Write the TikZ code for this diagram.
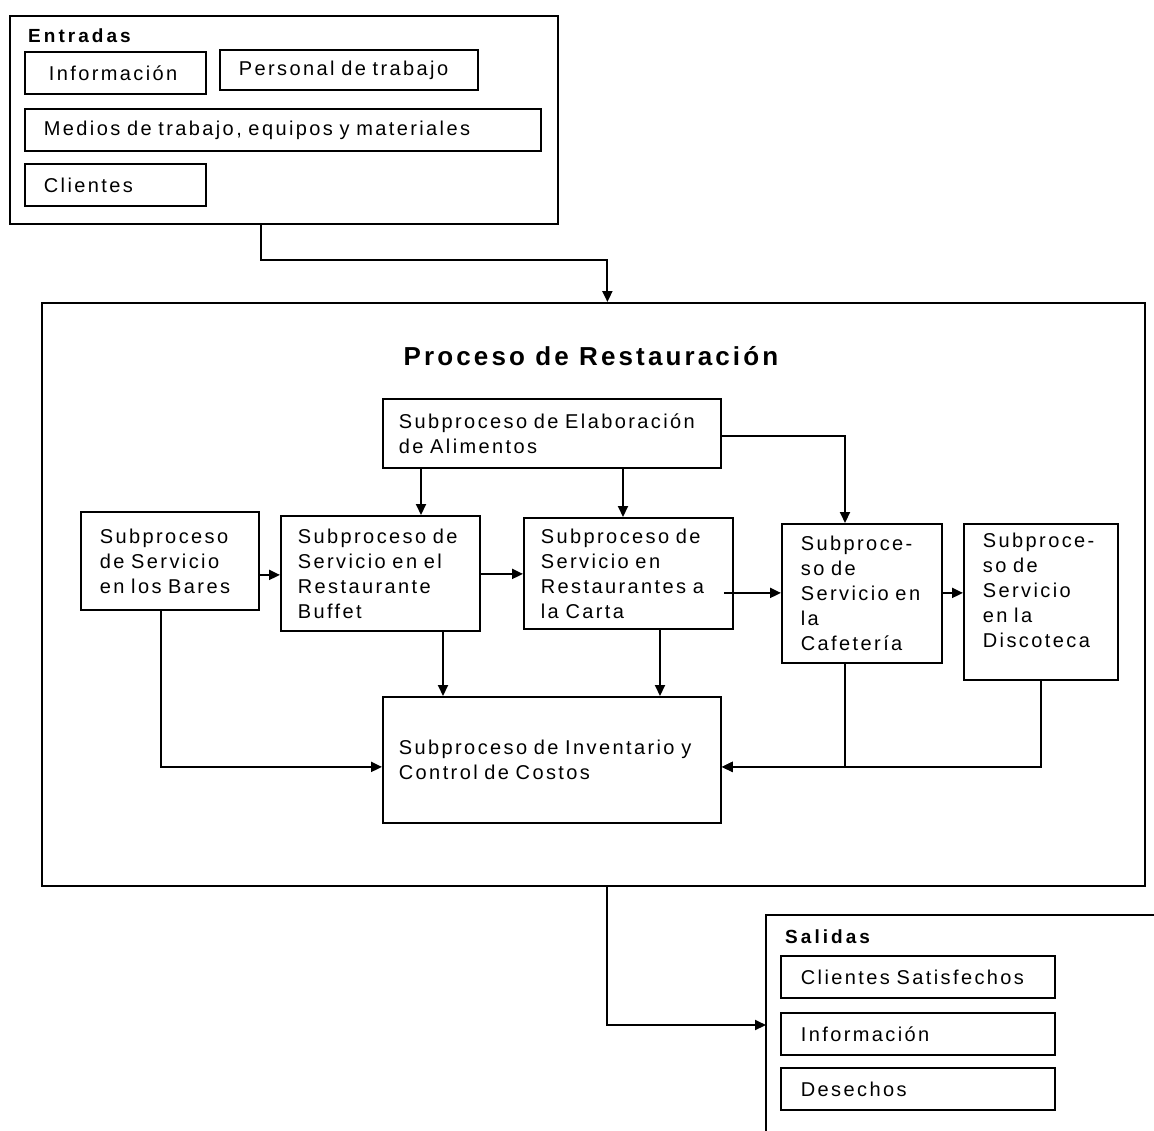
\documentclass[tikz,border=0pt]{standalone}
\usepackage{fontspec}
\usetikzlibrary{arrows.meta}
\newfontfamily\tf[LetterSpace=12]{Liberation Sans}
\newfontfamily\tfl[LetterSpace=16]{Liberation Sans}
\newcommand\bodyfont{\tf\fontsize{20}{25}\selectfont}
\newcommand\titlefont{\tf\bfseries\fontsize{26}{30}\selectfont}
\tikzset{
  bx/.style={draw, line width=1.8pt, inner ysep=0pt, anchor=north west, align=left, font=\bodyfont},
  lbl/.style={anchor=west, inner sep=0pt, font=\tfl\bfseries\fontsize{19}{22}\selectfont},
  arr/.style={draw, line width=2pt, -{Triangle[length=11pt,width=10pt]}},
  ln/.style={draw, line width=1.8pt}
}
\begin{document}
\begin{tikzpicture}[x=1pt,y=-1pt]
\useasboundingbox (0,0) rectangle (1154,1130);
% Entradas
\node[bx, minimum height=208pt, text width=548pt, inner xsep=0pt] (ent) at (9,15) {};
\node[lbl] (entl) at (28,36) {Entradas};
\node[bx, minimum height=42pt, text width=133pt, inner xsep=24pt] (ei) at (24,51) {Información};
\node[bx, minimum height=40pt, text width=220pt, inner xsep=19pt] (ep) at (219,49) {Personal~de~trabajo};
\node[bx, minimum height=42pt, text width=478pt, inner xsep=19pt] (em) at (24,108) {Medios~de~trabajo,~equipos~y~materiales};
\node[bx, minimum height=42pt, text width=143pt, inner xsep=19pt] (ec) at (24,163) {Clientes};
% Proceso
\node[bx, minimum height=583pt, text width=1103pt, inner xsep=0pt] (proc) at (41,302) {};
\node[inner sep=0pt, font=\titlefont] (title) at (591,356) {Proceso de Restauración};
\node[bx, minimum height=69pt, text width=306pt, inner xsep=16pt] (elab) at (382,398) {Subproceso~de~Elaboración\\de~Alimentos};
\node[bx, minimum height=98pt, text width=140pt, inner xsep=19pt] (bares) at (80,511) {Subproceso\\de~Servicio\\en~los~Bares};
\node[bx, minimum height=115pt, text width=165pt, inner xsep=17pt] (buf) at (280,515) {Subproceso~de\\Servicio~en~el\\Restaurante\\Buffet};
\node[bx, minimum height=111pt, text width=175pt, inner xsep=17pt] (carta) at (523,517) {Subproceso~de\\Servicio~en\\Restaurantes~a\\la~Carta};
\node[bx, minimum height=139pt, text width=122pt, inner xsep=19pt] (cafe) at (781,523) {Subproce-\\so~de\\Servicio~en\\la\\Cafetería};
\node[bx, minimum height=156pt, text width=116pt, inner xsep=19pt] (disc) at (963,523) {Subproce-\\so~de\\Servicio\\en~la\\Discoteca\rule[-24pt]{0pt}{1pt}};
\node[bx, minimum height=126pt, text width=306pt, inner xsep=16pt] (inv) at (382,696) {Subproceso~de~Inventario~y\\Control~de~Costos};
% Salidas
\draw[ln] (1160,915) -| (766,1136);
\coordinate (salin) at (766,1025);
\node[lbl] (sall) at (785,937) {Salidas};
\node[bx, minimum height=42pt, text width=234pt, inner xsep=20pt] (s1) at (780,955) {Clientes~Satisfechos};
\node[bx, minimum height=42pt, text width=234pt, inner xsep=20pt] (s2) at (780,1012) {Información};
\node[bx, minimum height=42pt, text width=234pt, inner xsep=20pt] (s3) at (780,1067) {Desechos};
% connectors
\draw[arr] ([xshift=252pt]ent.south west) -- ++(0,35) -| ([xshift=14pt]proc.north);
\coordinate (bt) at ([xshift=141pt]buf.north west);
\coordinate (ct) at ([xshift=100pt]carta.north west);
\coordinate (cft) at ([xshift=64pt]cafe.north west);
\draw[arr] (elab.south -| bt) -- (bt);
\draw[arr] (elab.south -| ct) -- (ct);
\draw[arr] ([yshift=-2.5pt]elab.east) -| (cft);
\draw[arr] ([yshift=-1.5pt]bares.east |- buf.west) coordinate (p1) -- (p1 -| buf.west);
\draw[arr] ([yshift=-0.5pt]buf.east |- carta.west) coordinate (p2) -- (p2 -| carta.west);
\draw[arr] ([xshift=-10pt,yshift=0.5pt]carta.east |- cafe.west) coordinate (p3) -- (p3 -| cafe.west);
\draw[arr] ([yshift=0.5pt]cafe.east) coordinate (p4) -- (p4 -| disc.west);
\coordinate (bb) at ([xshift=163pt]buf.south west);
\coordinate (cb) at ([xshift=137pt]carta.south west);
\draw[arr] (bb) -- (bb |- inv.north);
\draw[arr] (cb) -- (cb |- inv.north);
\draw[arr] ([xshift=81pt]bares.south west) |- ([yshift=-7pt]inv.west);
\draw[arr] ([xshift=64pt]cafe.south west) |- ([yshift=-7pt]inv.east);
\draw[arr] ([xshift=78pt]disc.south west) |- ([yshift=-7pt]inv.east);
\draw[arr] ([xshift=14pt]proc.south) |- (salin);
\end{tikzpicture}
\end{document}
